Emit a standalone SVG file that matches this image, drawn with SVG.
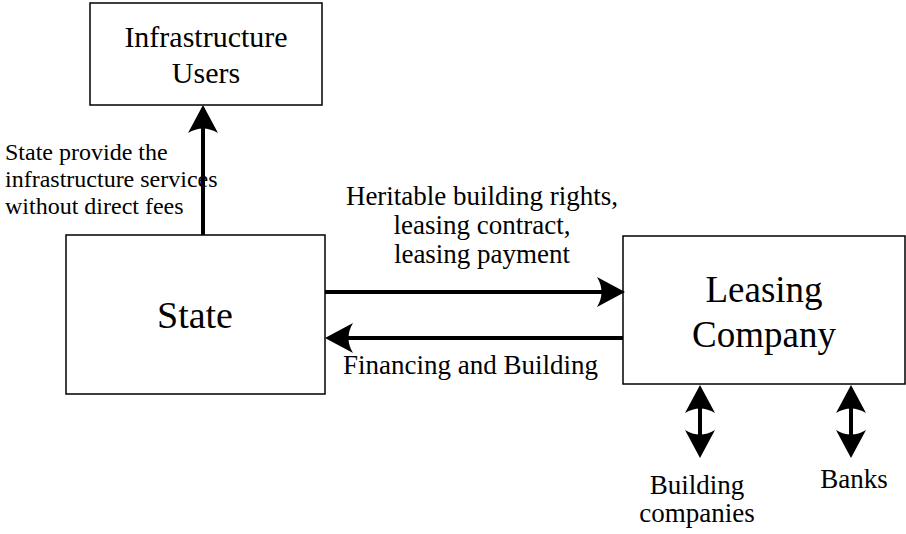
<svg xmlns="http://www.w3.org/2000/svg" width="906" height="534" viewBox="0 0 906 534">
<style>
.box{fill:#fff;stroke:#000;stroke-width:1.5}
.t{font-family:"Liberation Serif","Times New Roman",serif;fill:#000}
.m{text-anchor:middle}
.c{stroke:#000;stroke-width:4;fill:none}
</style>
<defs>
<marker id="ah" markerUnits="userSpaceOnUse" markerWidth="28" markerHeight="30" viewBox="0 0 28 30" refX="24" refY="15" orient="auto-start-reverse">
<path d="M28,15 L0,0 Q9,15 0,30 Z" fill="#000"/>
</marker>
</defs>
<rect width="906" height="534" fill="#fff"/>
<g id="infrastructure-users">
<rect class="box" x="90" y="3" width="232" height="102"/>
<text class="t m" x="206" y="47" font-size="30">Infrastructure</text>
<text class="t m" x="206" y="83" font-size="30">Users</text>
</g>
<g id="state">
<rect class="box" x="66" y="235" width="259" height="159"/>
<text class="t m" x="195" y="328" font-size="38">State</text>
</g>
<g id="leasing-company">
<rect class="box" x="623" y="236" width="282" height="148"/>
<text class="t m" x="764" y="302" font-size="37">Leasing</text>
<text class="t m" x="764" y="347" font-size="37">Company</text>
</g>
<g id="building-companies">
<text class="t m" x="697" y="494" font-size="27">Building</text>
<text class="t m" x="697" y="522" font-size="27">companies</text>
</g>
<g id="banks">
<text class="t m" x="854" y="488" font-size="27">Banks</text>
</g>
<g id="connectors">
<line class="c" x1="203" y1="235" x2="203" y2="109" marker-end="url(#ah)"/>
<line class="c" x1="325" y1="292" x2="621" y2="292" marker-end="url(#ah)"/>
<line class="c" x1="623" y1="338" x2="329" y2="338" marker-end="url(#ah)"/>
<line class="c" x1="700" y1="389" x2="700" y2="454" marker-start="url(#ah)" marker-end="url(#ah)"/>
<line class="c" x1="851" y1="389" x2="851" y2="454" marker-start="url(#ah)" marker-end="url(#ah)"/>
</g>
<g id="labels">
<text class="t" x="5" y="160" font-size="24">State provide the</text>
<text class="t" x="5" y="187" font-size="24">infrastructure services</text>
<text class="t" x="5" y="214" font-size="24">without direct fees</text>
<text class="t m" x="482" y="205" font-size="27">Heritable building rights,</text>
<text class="t m" x="482" y="234" font-size="27">leasing contract,</text>
<text class="t m" x="482" y="263" font-size="27">leasing payment</text>
<text class="t" x="343" y="374" font-size="27">Financing and Building</text>
</g>
</svg>
